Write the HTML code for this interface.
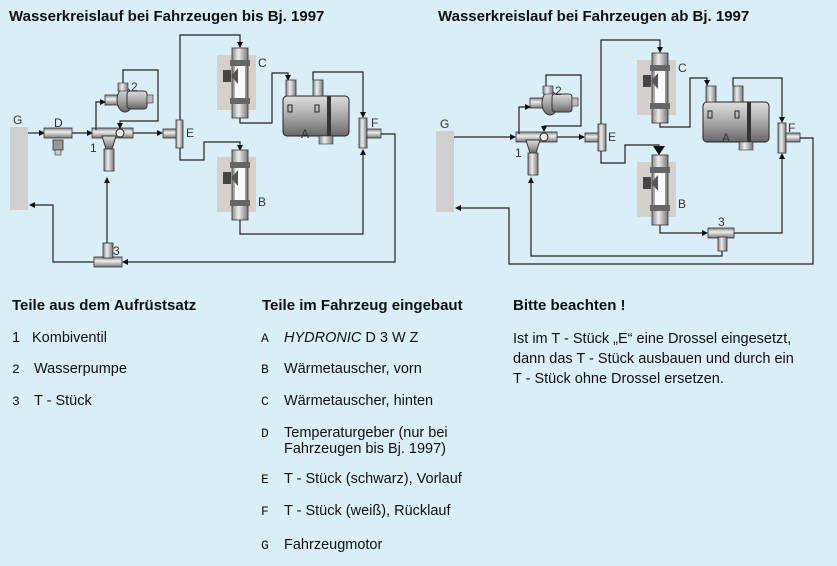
<!DOCTYPE html>
<html><head><meta charset="utf-8"><style>
html,body{margin:0;padding:0;background:#d9eef6;}
svg{display:block;}
text{font-family:"Liberation Sans",Arial,sans-serif;fill:#111;}
.m{font-family:"Liberation Mono",monospace;font-size:13px;}
.t{font-size:14.5px;}
.b{font-size:15px;font-weight:bold;}
.l{font-size:12px;fill:#333;}
.w{fill:none;stroke:#222;stroke-width:1.2;}
</style></head><body>
<svg width="837" height="566" viewBox="0 0 837 566" xmlns="http://www.w3.org/2000/svg">
<defs>
<marker id="a" markerWidth="6" markerHeight="6" refX="5" refY="3" orient="auto" markerUnits="userSpaceOnUse"><path d="M0,0 L6,3 L0,6z" fill="#111"/></marker>
<linearGradient id="gv" x1="0" x2="1"><stop offset="0" stop-color="#888"/><stop offset="0.4" stop-color="#eee"/><stop offset="1" stop-color="#777"/></linearGradient>
<linearGradient id="gh" x1="0" y1="0" x2="0" y2="1"><stop offset="0" stop-color="#888"/><stop offset="0.4" stop-color="#eee"/><stop offset="1" stop-color="#777"/></linearGradient>
<linearGradient id="gb" x1="0" y1="0" x2="0" y2="1"><stop offset="0" stop-color="#ddd"/><stop offset="0.5" stop-color="#aaa"/><stop offset="1" stop-color="#666"/></linearGradient>
<g id="hx">
<rect x="-15" y="7" width="39" height="55" fill="#d4d0cc"/>
<rect x="0" y="0" width="16" height="70" fill="url(#gv)" stroke="#333" stroke-width="0.8"/>
<rect x="-2" y="12" width="20" height="6" fill="#666"/>
<rect x="-2" y="50" width="20" height="6" fill="#666"/>
<rect x="3" y="18" width="10" height="32" fill="#fafafa"/>
<rect x="-9" y="22" width="8" height="12" fill="#444"/>
<path d="M-1,28 L6,20 L6,36z" fill="#555"/>
</g>
<g id="heater">
<rect x="0" y="8" width="66" height="40" rx="4" fill="url(#gb)" stroke="#222"/>
<rect x="3" y="-8" width="10" height="16" fill="url(#gv)" stroke="#333" stroke-width="0.8"/>
<rect x="30" y="-8" width="10" height="16" fill="url(#gv)" stroke="#333" stroke-width="0.8"/>
<rect x="44" y="8" width="4" height="40" fill="#333"/>
<rect x="36" y="48" width="14" height="8" fill="url(#gv)" stroke="#333" stroke-width="0.6"/>
<rect x="5" y="17" width="4" height="7" fill="none" stroke="#222"/>
<rect x="32" y="17" width="4" height="7" fill="none" stroke="#222"/>
</g>
<g id="pump">
<rect x="0" y="9" width="14" height="10" fill="url(#gh)" stroke="#333" stroke-width="0.8"/>
<ellipse cx="20" cy="14" rx="8" ry="12" fill="url(#gb)" stroke="#333"/>
<rect x="22" y="5" width="20" height="18" rx="3" fill="url(#gb)" stroke="#333"/>
<rect x="42" y="9" width="6" height="8" fill="#bbb" stroke="#333" stroke-width="0.6"/>
<rect x="13" y="-3" width="10" height="8" fill="url(#gv)" stroke="#333" stroke-width="0.6"/>
</g>
<g id="valve">
<rect x="0" y="-5" width="41" height="10" fill="url(#gh)" stroke="#333" stroke-width="0.8"/>
<circle cx="28" cy="0" r="4" fill="#eee" stroke="#222"/>
<path d="M10,3 L24,3 L20,16 L14,16z" fill="url(#gb)" stroke="#333"/>
<rect x="12" y="16" width="10" height="22" fill="url(#gv)" stroke="#333" stroke-width="0.8"/>
</g>
</defs>

<text x="9" y="21" style="font-size:15px;font-weight:bold">Wasserkreislauf bei Fahrzeugen bis Bj. 1997</text>
<text x="438" y="21" style="font-size:15px;font-weight:bold">Wasserkreislauf bei Fahrzeugen ab Bj. 1997</text>

<!-- LEFT DIAGRAM -->
<rect x="10" y="127" width="18" height="83" fill="#cfcfcf"/>
<text class="l" x="13" y="124">G</text>
<path class="w" d="M28,133 H44" marker-end="url(#a)"/>
<rect x="44" y="128" width="28" height="10" fill="url(#gh)" stroke="#333" stroke-width="0.8"/>
<rect x="53" y="140" width="10" height="10" fill="#999" stroke="#333" stroke-width="0.8"/>
<rect x="55" y="150" width="6" height="5" fill="#ccc" stroke="#333" stroke-width="0.6"/>
<text class="l" x="54" y="127">D</text>
<path class="w" d="M72,133 H92" marker-end="url(#a)"/>
<use href="#valve" x="92" y="133"/>
<text class="l" x="90" y="152">1</text>
<use href="#pump" x="105" y="86"/>
<text class="l" x="131" y="91">2</text>
<path class="w" d="M96,130 V102 H105" marker-end="url(#a)"/>
<path class="w" d="M123,83 V70 H158 V121 H120 V128" marker-end="url(#a)"/>
<path class="w" d="M133,133 H162" marker-end="url(#a)"/>
<rect x="163" y="129" width="14" height="9" fill="url(#gh)" stroke="#333" stroke-width="0.8"/>
<rect x="176" y="120" width="7" height="28" fill="url(#gv)" stroke="#333" stroke-width="0.8"/>
<text class="l" x="186" y="137">E</text>
<path class="w" d="M180,120 V35 H240 V47" marker-end="url(#a)"/>
<use href="#hx" x="232" y="48"/>
<text class="l" x="258" y="67">C</text>
<path class="w" d="M240,118 V123 H272 V73 H288 V80" marker-end="url(#a)"/>
<use href="#heater" x="283" y="88"/>
<text class="l" x="301" y="138">A</text>
<path class="w" d="M313,80 V72 H363 V117" marker-end="url(#a)"/>
<rect x="359" y="118" width="8" height="30" fill="url(#gv)" stroke="#333" stroke-width="0.8"/>
<rect x="367" y="129" width="14" height="9" fill="url(#gh)" stroke="#333" stroke-width="0.8"/>
<text class="l" x="371" y="127">F</text>
<path class="w" d="M180,148 V160 H204 V142 H240 V150" marker-end="url(#a)"/>
<use href="#hx" x="232" y="150"/>
<text class="l" x="258" y="206">B</text>
<path class="w" d="M240,220 V234 H363 V150" marker-end="url(#a)"/>
<path class="w" d="M381,134 H395 V262 H123" marker-end="url(#a)"/>
<rect x="94" y="257" width="28" height="10" fill="url(#gh)" stroke="#333" stroke-width="0.8"/>
<rect x="103" y="243" width="10" height="15" fill="url(#gv)" stroke="#333" stroke-width="0.8"/>
<text class="l" x="113" y="255">3</text>
<path class="w" d="M107,243 V178" marker-end="url(#a)"/>
<path class="w" d="M94,262 H53 V205 H30" marker-end="url(#a)"/>

<!-- RIGHT DIAGRAM -->
<rect x="436" y="131" width="18" height="81" fill="#cfcfcf"/>
<text class="l" x="440" y="128">G</text>
<path class="w" d="M454,137 H515" marker-end="url(#a)"/>
<use href="#valve" x="516" y="137"/>
<text class="l" x="515" y="157">1</text>
<use href="#pump" x="530" y="89"/>
<text class="l" x="555" y="95">2</text>
<path class="w" d="M519,134 V107 H530" marker-end="url(#a)"/>
<path class="w" d="M546,86 V75 H581 V126 H544 V131" marker-end="url(#a)"/>
<path class="w" d="M557,137 H584" marker-end="url(#a)"/>
<rect x="585" y="133" width="14" height="9" fill="url(#gh)" stroke="#333" stroke-width="0.8"/>
<rect x="598" y="124" width="8" height="27" fill="url(#gv)" stroke="#333" stroke-width="0.8"/>
<text class="l" x="608" y="141">E</text>
<path class="w" d="M601,124 V40 H660 V52" marker-end="url(#a)"/>
<use href="#hx" x="652" y="53"/>
<text class="l" x="678" y="72">C</text>
<path class="w" d="M660,123 V127 H690 V78 H707 V85" marker-end="url(#a)"/>
<use href="#heater" x="703" y="94"/>
<text class="l" x="722" y="142">A</text>
<path class="w" d="M733,86 V78 H782 V122" marker-end="url(#a)"/>
<rect x="778" y="123" width="8" height="30" fill="url(#gv)" stroke="#333" stroke-width="0.8"/>
<rect x="786" y="133" width="14" height="9" fill="url(#gh)" stroke="#333" stroke-width="0.8"/>
<text class="l" x="788" y="132">F</text>
<path class="w" d="M601,151 V163 H625 V145 H659 V148"/>
<path d="M653,146 L665,146 L659,155z" fill="#111"/>
<use href="#hx" x="652" y="155"/>
<text class="l" x="678" y="208">B</text>
<path class="w" d="M660,225 V233 H707" marker-end="url(#a)"/>
<rect x="708" y="228" width="26" height="10" fill="url(#gh)" stroke="#333" stroke-width="0.8"/>
<rect x="718" y="237" width="9" height="14" fill="url(#gv)" stroke="#333" stroke-width="0.8"/>
<text class="l" x="718" y="226">3</text>
<path class="w" d="M734,233 H782 V154" marker-end="url(#a)"/>
<path class="w" d="M722,251 V256 H531 V178" marker-end="url(#a)"/>
<path class="w" d="M800,138 H813 V264 H509 V208 H456" marker-end="url(#a)"/>

<!-- TEXT -->
<text class="b" x="12" y="310">Teile aus dem Aufrüstsatz</text>
<text class="t" x="12" y="342">1</text><text class="t" x="32" y="342">Kombiventil</text>
<text class="m" x="12" y="373">2</text><text class="t" x="34" y="373">Wasserpumpe</text>
<text class="m" x="12" y="405">3</text><text class="t" x="34" y="405">T - Stück</text>

<text class="b" x="262" y="310">Teile im Fahrzeug eingebaut</text>
<text class="m" x="261" y="342">A</text><text class="t" x="284" y="342"><tspan font-style="italic">HYDRONIC</tspan> D 3 W Z</text>
<text class="m" x="261" y="373">B</text><text class="t" x="284" y="373">Wärmetauscher,  vorn</text>
<text class="m" x="261" y="405">C</text><text class="t" x="284" y="405">Wärmetauscher,  hinten</text>
<text class="m" x="261" y="437">D</text><text class="t" x="284" y="437">Temperaturgeber (nur bei</text>
<text class="t" x="284" y="453">Fahrzeugen bis Bj. 1997)</text>
<text class="m" x="261" y="483">E</text><text class="t" x="284" y="483">T - Stück (schwarz), Vorlauf</text>
<text class="m" x="261" y="515">F</text><text class="t" x="284" y="515">T - Stück (weiß), Rücklauf</text>
<text class="m" x="261" y="549">G</text><text class="t" x="284" y="549">Fahrzeugmotor</text>

<text class="b" x="513" y="310">Bitte beachten !</text>
<text class="t" x="513" y="343">Ist im T - Stück „E“ eine Drossel eingesetzt,</text>
<text class="t" x="513" y="363">dann das T - Stück ausbauen und durch ein</text>
<text class="t" x="513" y="383">T - Stück ohne Drossel ersetzen.</text>
</svg>
</body></html>
